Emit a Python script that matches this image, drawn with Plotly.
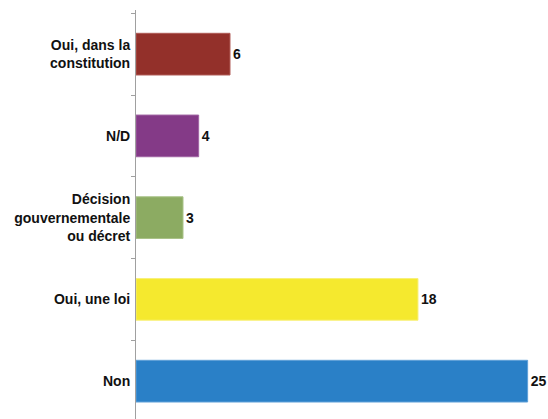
import plotly.graph_objects as go

categories = ["Non", "Oui, une loi", "Décision<br>gouvernementale<br>ou décret", "N/D", "Oui, dans la<br>constitution"]
values = [25, 18, 3, 4, 6]
colors = ["#2A80C7", "#F5E92E", "#8CAB62", "#843A87", "#93302A"]
edge_colors = ["#5FA0D8", "#F8F07A", "#A9C288", "#A064A3", "#B05A55"]

fig = go.Figure()
fig.add_trace(go.Bar(
    y=categories, x=values, orientation="h",
    marker=dict(color=colors, line=dict(color=edge_colors, width=1)),
    text=[str(v) for v in values], textposition="outside",
    textfont=dict(family="Liberation Sans, Arial, sans-serif", size=14, color="#111111"),
    cliponaxis=False, width=0.51,
))

fig.update_layout(
    width=548, height=419,
    margin=dict(l=136, r=0, t=10, b=0, autoexpand=False),
    paper_bgcolor="white", plot_bgcolor="white",
    showlegend=False,
    font=dict(family="Liberation Sans, Arial, sans-serif", size=14, color="#111111"),
    xaxis=dict(visible=False, range=[0, 26.3], automargin=False),
    yaxis=dict(
        type="category", range=[-0.463, 4.54], automargin=False,
        showline=True, linecolor="#A0A0A0", linewidth=1,
        ticks="outside", ticklen=4, tickcolor="#A0A0A0", tickson="boundaries",
        ticklabelstandoff=2,
        showgrid=False, zeroline=False,
        tickfont=dict(family="Liberation Sans, Arial, sans-serif", size=14, color="#111111", weight="bold"),
    ),
)
fig.update_traces(textfont_weight="bold")

fig.write_html(
    "out.html",
    config={"displayModeBar": False},
    post_script="document.body.style.margin='0';document.body.style.overflow='hidden';",
)
